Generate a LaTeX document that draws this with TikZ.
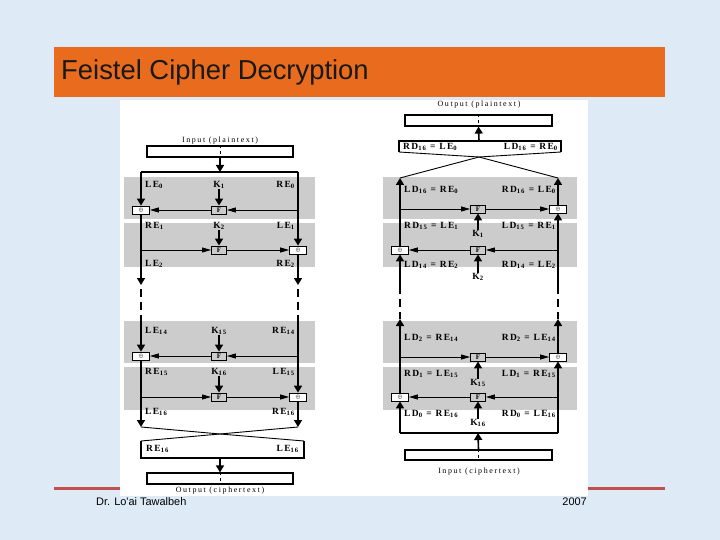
\documentclass[tikz,border=0pt]{standalone}
\usepackage{fontspec}
\setmainfont{Liberation Serif}
\newfontfamily\sansf{Liberation Sans}
\newfontfamily\lblf[LetterSpace=15]{Liberation Serif}
\newfontfamily\capf[LetterSpace=20]{Liberation Serif}
\usetikzlibrary{arrows.meta}
\definecolor{bgblue}{RGB}{222,235,247}
\definecolor{titleor}{RGB}{233,108,30}
\definecolor{redline}{RGB}{192,80,77}
\definecolor{bandgray}{RGB}{204,204,204}
\newcommand{\ssub}[1]{\textsubscript{#1}}
\newcommand{\xorsym}{$\scriptscriptstyle\oplus$}
\tikzset{
  lbl/.style={font=\lblf\bfseries\fontsize{9.5}{10}\selectfont, inner sep=0pt},
  captxt/.style={font=\capf\fontsize{8}{8}\selectfont, inner sep=0pt},
  fbox/.style={draw, fill=bandgray, line width=0.9bp, minimum width=15bp, minimum height=8bp, inner sep=0pt, font=\bfseries\fontsize{7}{7}\selectfont},
  xorbox/.style={draw, fill=white, line width=0.8bp, minimum width=17bp, minimum height=8bp, inner sep=0pt},
  iobox/.style={draw, line width=1.2bp, minimum height=11bp, inner sep=0pt},
  mainline/.style={line width=1.6bp},
  hline/.style={line width=0.9bp},
  varr/.style={-{Triangle[width=8bp,length=7bp]}},
  harr/.style={-{Triangle[width=5bp,length=9bp]}},
  dashline/.style={line width=2.2bp, dash pattern=on 8bp off 5bp},
  boxline/.style={line width=1.2bp}
}
\begin{document}
\begin{tikzpicture}[x=1bp,y=-1bp]
\useasboundingbox (0,0) rectangle (720,540);
% slide background
\fill[bgblue] (0,0) rectangle (720,540);
\fill[titleor] (54,47) rectangle (665,97);
\node[anchor=west, inner sep=0pt, font=\sansf\fontsize{27.5}{30}\selectfont, text=black!90] (title) at (61,72) {Feistel Cipher Decryption};
\fill[redline] (54,486.5) rectangle (665,489.5);
\fill[white] (120,100) rectangle (588,496);
\node[anchor=west, inner sep=0pt, font=\sansf\fontsize{11}{12}\selectfont] (author) at (96,502) {Dr. Lo'ai Tawalbeh};
\node[anchor=east, inner sep=0pt, font=\sansf\fontsize{11}{12}\selectfont] (year) at (587,502) {2007};
% gray bands
\foreach \ya/\yb in {177/219, 223/267, 321/363, 367/410}{
  \fill[bandgray] (124,\ya) rectangle (315,\yb);
  \fill[bandgray] (383,\ya) rectangle (577,\yb);
}
% ================= LEFT: encryption =================
\node[captxt] (inL) at (220,141) {Input (plaintext)};
\node[iobox, minimum width=146bp] (inboxL) at (220,151.5) {};
\draw[dashed, line width=0.6bp] (inboxL.north) -- (inboxL.south);
\coordinate (L0) at (141,172);
\coordinate (R0) at (298,172);
\coordinate (T0) at (220,172);
\draw[mainline, varr] (inboxL.south) -- (T0);
\draw[line width=1.3bp] (L0) -- (R0);
% round 1
\node[lbl, anchor=west] (le0) at (145,185) {LE\ssub{0}};
\node[lbl] (k1) at (219,185) {K\ssub{1}};
\node[lbl, anchor=east] (re0) at (295,185) {RE\ssub{0}};
\node[xorbox] (x1) at (141,210) {\xorsym};
\node[fbox] (f1) at (219,210) {F};
\coordinate (r1) at (298,210);
\draw[mainline, varr] (L0) -- (x1.north);
\draw[mainline, varr] (k1.south) -- (f1.north);
\draw[hline, harr] (r1) -- (f1.east);
\draw[hline, harr] (f1.west) -- (x1.east);
% round 2
\node[lbl, anchor=west] (re1) at (145,226) {RE\ssub{1}};
\node[lbl] (k2) at (219,226) {K\ssub{2}};
\node[lbl, anchor=east] (le1) at (295,226) {LE\ssub{1}};
\node[fbox] (f2) at (219,250) {F};
\node[xorbox] (x2) at (298,250) {\xorsym};
\coordinate (l2) at (141,250);
\draw[mainline, varr] (R0) -- (x2.north);
\draw[mainline, varr] (k2.south) -- (f2.north);
\draw[hline, harr] (l2) -- (f2.west);
\draw[hline, harr] (f2.east) -- (x2.west);
\node[lbl, anchor=west] (le2) at (145,264) {LE\ssub{2}};
\node[lbl, anchor=east] (re2) at (295,264) {RE\ssub{2}};
\coordinate (lb) at (141,285);
\coordinate (rb) at (298,285);
\draw[mainline, varr] (x1.south) -- (lb);
\draw[mainline, varr] (x2.south) -- (rb);
\coordinate (ld1) at (141,289);
\coordinate (ld2) at (141,322);
\coordinate (rd1) at (298,289);
\coordinate (rd2) at (298,322);
\draw[dashline] (ld1) -- (ld2);
\draw[dashline] (rd1) -- (rd2);
% round 15
\node[lbl, anchor=west] (le14) at (145,331) {LE\ssub{14}};
\node[lbl] (k15) at (219,331) {K\ssub{15}};
\node[lbl, anchor=east] (re14) at (295,331) {RE\ssub{14}};
\node[xorbox] (x15) at (141,356) {\xorsym};
\node[fbox] (f15) at (219,356) {F};
\coordinate (r15) at (298,356);
\draw[mainline, varr] (ld2) -- (x15.north);
\draw[mainline, varr] (k15.south) -- (f15.north);
\draw[hline, harr] (r15) -- (f15.east);
\draw[hline, harr] (f15.west) -- (x15.east);
% round 16
\node[lbl, anchor=west] (re15) at (145,372) {RE\ssub{15}};
\node[lbl] (k16) at (219,372) {K\ssub{16}};
\node[lbl, anchor=east] (le15) at (295,372) {LE\ssub{15}};
\node[fbox] (f16) at (219,397) {F};
\node[xorbox] (x16) at (298,397) {\xorsym};
\coordinate (l16) at (141,397);
\draw[mainline, varr] (rd2) -- (x16.north);
\draw[mainline, varr] (k16.south) -- (f16.north);
\draw[hline, harr] (l16) -- (f16.west);
\draw[hline, harr] (f16.east) -- (x16.west);
\node[lbl, anchor=west] (le16) at (145,412) {LE\ssub{16}};
\node[lbl, anchor=east] (re16) at (295,412) {RE\ssub{16}};
\coordinate (lend) at (141,427);
\coordinate (rend) at (298,427);
\draw[mainline, varr] (x15.south) -- (lend);
\draw[mainline, varr] (x16.south) -- (rend);
% swap
\coordinate (cc) at (220,434);
\coordinate (swl) at (141,441);
\coordinate (swr) at (304,441);
\draw[hline] (lend) -- (cc) -- (swr);
\draw[hline] (rend) -- (cc) -- (swl);
\draw[boxline] (swl) -- (141,458) -- (304,458) -- (swr);
\coordinate (swb) at (220,458);
\node[lbl, anchor=west] (re16b) at (146,449) {RE\ssub{16}};
\node[lbl, anchor=east] (le16b) at (299,449) {LE\ssub{16}};
\node[iobox, minimum width=146bp] (outboxL) at (220,478.5) {};
\draw[dashed, line width=0.6bp] (outboxL.north) -- (outboxL.south);
\draw[mainline, varr] (swb) -- (outboxL.north);
\node[captxt] (outL) at (220,491) {Output (ciphertext)};
% ================= RIGHT: decryption =================
\node[captxt] (outR) at (479,105) {Output (plaintext)};
\node[iobox, minimum width=147bp] (outboxR) at (478.5,120.5) {};
\draw[dashed, line width=0.6bp] (outboxR.north) -- (outboxR.south);
\coordinate (swt) at (479,141);
\draw[mainline, varr] (swt) -- (outboxR.south);
\coordinate (swrl) at (399,152);
\coordinate (swrr) at (561,152);
\draw[boxline] (swrl) -- (399,141) -- (561,141) -- (swrr);
\node[lbl, anchor=west] (rdsw) at (403,147) {RD\ssub{16} = LE\ssub{0}};
\node[lbl, anchor=east] (ldsw) at (558,147) {LD\ssub{16} = RE\ssub{0}};
\coordinate (cr) at (479,157);
\coordinate (al) at (400,178);
\coordinate (ar) at (558,178);
\draw[hline] (swrl) -- (cr) -- (ar);
\draw[hline] (swrr) -- (cr) -- (al);
% round 1 (decryption)
\node[lbl, anchor=west] (d1a) at (404,190) {LD\ssub{16} = RE\ssub{0}};
\node[lbl, anchor=east] (d1b) at (556,190) {RD\ssub{16} = LE\ssub{0}};
\node[fbox] (fr1) at (478,209) {F};
\node[xorbox] (xr1) at (558,209) {\xorsym};
\coordinate (lr1) at (400,209);
\draw[hline, harr] (lr1) -- (fr1.west);
\draw[hline, harr] (fr1.east) -- (xr1.west);
\draw[mainline, varr] (xr1.north) -- (ar);
\node[lbl, anchor=west] (d2a) at (404,226) {RD\ssub{15} = LE\ssub{1}};
\node[lbl, anchor=east] (d2b) at (556,226) {LD\ssub{15} = RE\ssub{1}};
\node[lbl] (kr1) at (478,234) {K\ssub{1}};
\draw[mainline, varr] (kr1.north) -- (fr1.south);
% round 2 (decryption)
\node[fbox] (fr2) at (478,250) {F};
\node[xorbox] (xr2) at (400,250) {\xorsym};
\coordinate (rr2) at (558,250);
\draw[hline, harr] (rr2) -- (fr2.east);
\draw[hline, harr] (fr2.west) -- (xr2.east);
\draw[mainline, varr] (xr2.north) -- (al);
\node[lbl, anchor=west] (d3a) at (404,265) {LD\ssub{14} = RE\ssub{2}};
\node[lbl, anchor=east] (d3b) at (556,265) {RD\ssub{14} = LE\ssub{2}};
\node[lbl] (kr2) at (478,277) {K\ssub{2}};
\draw[mainline, varr] (kr2.north) -- (fr2.south);
\coordinate (lrb) at (400,286);
\coordinate (rrb) at (558,286);
\draw[mainline, varr] (lrb) -- (xr2.south);
\draw[mainline, varr] (rrb) -- (xr1.south);
\coordinate (lrd) at (400,319);
\coordinate (rrd) at (558,319);
\draw[dashline] (lrb) -- (lrd);
\draw[dashline] (rrb) -- (rrd);
% round 15 (decryption)
\node[lbl, anchor=west] (d4a) at (404,338) {LD\ssub{2} = RE\ssub{14}};
\node[lbl, anchor=east] (d4b) at (556,338) {RD\ssub{2} = LE\ssub{14}};
\node[fbox] (fr3) at (478,357) {F};
\node[xorbox] (xr3) at (558,357) {\xorsym};
\coordinate (lr3) at (400,357);
\draw[hline, harr] (lr3) -- (fr3.west);
\draw[hline, harr] (fr3.east) -- (xr3.west);
\draw[mainline, varr] (xr3.north) -- (rrd);
\node[lbl, anchor=west] (d5a) at (404,374) {RD\ssub{1} = LE\ssub{15}};
\node[lbl, anchor=east] (d5b) at (556,374) {LD\ssub{1} = RE\ssub{15}};
\node[lbl] (kr15) at (478,383) {K\ssub{15}};
\draw[mainline, varr] (kr15.north) -- (fr3.south);
% round 16 (decryption)
\node[fbox] (fr4) at (478,397) {F};
\node[xorbox] (xr4) at (400,397) {\xorsym};
\coordinate (rr4) at (558,397);
\draw[hline, harr] (rr4) -- (fr4.east);
\draw[hline, harr] (fr4.west) -- (xr4.east);
\draw[mainline, varr] (xr4.north) -- (lrd);
\node[lbl, anchor=west] (d6a) at (404,414) {LD\ssub{0} = RE\ssub{16}};
\node[lbl, anchor=east] (d6b) at (556,414) {RD\ssub{0} = LE\ssub{16}};
\node[lbl] (kr16) at (478,423) {K\ssub{16}};
\draw[mainline, varr] (kr16.north) -- (fr4.south);
\coordinate (bl) at (400,433);
\coordinate (br) at (558,433);
\coordinate (bm) at (478,433);
\draw[line width=1.3bp] (bl) -- (br);
\draw[mainline, varr] (bl) -- (xr4.south);
\draw[mainline, varr] (br) -- (xr3.south);
\node[iobox, minimum width=147bp, minimum height=10bp] (inboxR) at (478.5,455) {};
\draw[dashed, line width=0.6bp] (inboxR.north) -- (inboxR.south);
\draw[mainline, varr] (inboxR.north) -- (bm);
\node[captxt] (inR) at (479,472) {Input (ciphertext)};
\end{tikzpicture}
\end{document}
